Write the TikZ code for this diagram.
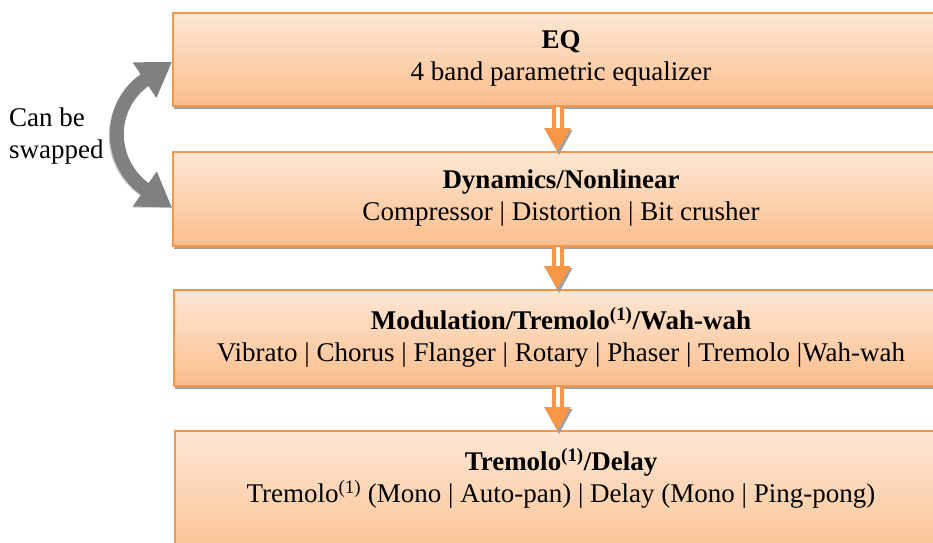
\documentclass[tikz,border=0pt]{standalone}
\usepackage{fontspec}
\setmainfont{Liberation Serif}
\usetikzlibrary{arrows.meta,shadows}
\definecolor{ora}{HTML}{F79646}
\definecolor{topc}{RGB}{253,231,213}
\definecolor{botc}{RGB}{251,190,140}
\definecolor{shad}{RGB}{160,160,160}
\definecolor{swapg}{RGB}{128,128,128}
\begin{document}
\begin{tikzpicture}[x=1pt,y=-1pt,
  box/.style={draw=ora, line width=1.5pt, top color=topc, bottom color=botc,
    minimum width=820pt, anchor=north west, inner sep=0pt,
    drop shadow={shadow xshift=1.5pt, shadow yshift=-3pt, fill=shad, opacity=1}},
  lbl/.style={align=center, font=\fontsize{27}{32}\selectfont, inner sep=0pt},
  shaft/.style={draw=ora, line width=4pt, double=white, double distance=4pt},
  swaparrow/.style={line width=14pt, draw=swapg,
    {Triangle[width=40pt,length=33pt]}-{Triangle[width=40pt,length=33pt]}},
  swapshadow/.style={line width=14pt, draw=swapg!45,
    {Triangle[width=40pt,length=33pt]}-{Triangle[width=40pt,length=33pt]}}
]
\useasboundingbox (0,0) rectangle (933,542);
\clip (0,0) rectangle (933,542);

\node[box, minimum height=93pt] (eq) at (172,12) {};
\node[box, minimum height=94pt] (dyn) at (172,151) {};
\node[box, minimum height=96pt] (mod) at (173,289) {};
\node[box, minimum height=140pt] (del) at (174,430) {};

\node[lbl] (t1) at (561,58.5) {\textbf{EQ}\\4 band parametric equalizer};
\node[lbl] (t2) at (561,198) {\textbf{Dynamics/Nonlinear}\\Compressor | Distortion | Bit crusher};
\node[lbl] (t3) at (561,337) {\textbf{Modulation/Tremolo\textsuperscript{(1)}/Wah-wah}\\Vibrato | Chorus | Flanger | Rotary | Phaser | Tremolo |Wah-wah};
\node[lbl] (t4) at (561,478) {\textbf{Tremolo\textsuperscript{(1)}/Delay}\\Tremolo\textsuperscript{(1)} (Mono | Auto-pan) | Delay (Mono | Ping-pong)};

% down arrows
\foreach \a/\b in {eq/dyn, dyn/mod, mod/del}{
  \coordinate (s-\b) at (557.5,0 |- \a.south);
  \coordinate (e-\b) at (557.5,0 |- \b.north);
  \coordinate (h-\b) at ([yshift=23pt]e-\b);
  \draw[shaft] (s-\b) -- (h-\b);
  \fill[shad] ([xshift=-12pt,yshift=-2pt]h-\b) -- ([xshift=15pt,yshift=-2pt]h-\b)
     -- ([xshift=1.5pt,yshift=-4pt]e-\b) -- cycle;
  \fill[ora] ([xshift=-13.5pt]h-\b) -- ([xshift=13.5pt]h-\b) -- (e-\b) -- cycle;
}

% swap arrow
\coordinate (sw1) at ([yshift=-2.5pt]eq.west);
\coordinate (sw2) at ([yshift=-9pt]dyn.west);
\begin{scope}[shift={(-1.2,2)}]
\draw[swapshadow] (sw1) .. controls (107,105) and (107,163) .. (sw2);
\end{scope}
\draw[swaparrow] (sw1) .. controls (107,105) and (107,163) .. (sw2);

\node[lbl, align=left, anchor=west] (cap) at (9,136) {Can be\\swapped};
\end{tikzpicture}
\end{document}
